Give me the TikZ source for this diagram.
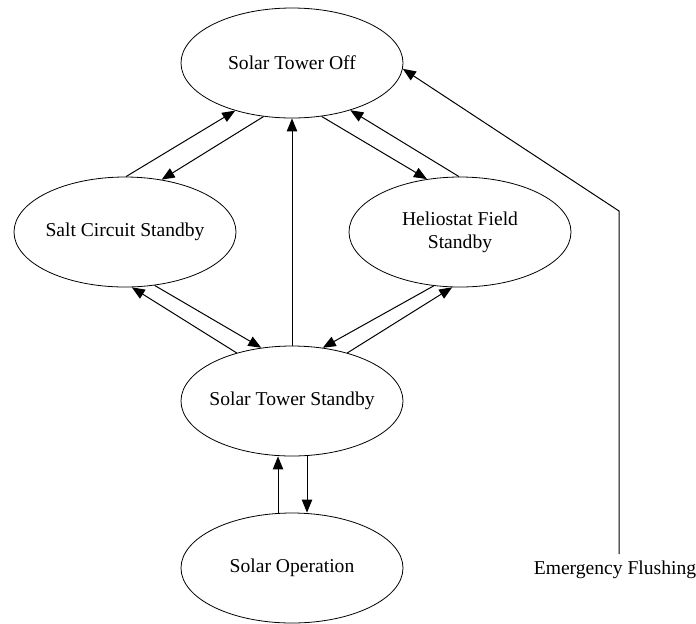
\documentclass[tikz,border=0pt]{standalone}
\usepackage{fontspec}
\setmainfont{Liberation Serif}
\usetikzlibrary{arrows.meta,shapes.geometric}

\begin{document}
\begin{tikzpicture}[x=0.5pt,y=-0.5pt]
    % states of the solar tower plant
    % - one off state, three standby states, operation
    % - emergency flushing goes back to off
    \tikzset{state/.style = {shape=ellipse,draw,line width=0.4pt,inner ysep=0pt,
        inner xsep=-5pt,minimum width=111pt,minimum height=55pt,align=center,
        font=\fontsize{9.8}{11.6}\selectfont}}
    \tikzset{pre/.style = {-{Triangle[length=6.5pt,width=5.2pt]},line width=0.5pt}}

    \useasboundingbox (0,0) rectangle (696,623);

    % states
    \node[state] (off)  at (292,63)  {Solar Tower Off};
    \node[state] (salt) at (125,232) {Salt Circuit Standby};
    \node[state] (helio) at (460,232) {Heliostat Field\\Standby};
    \node[state] (stb)  at (292,401) {Solar Tower Standby};
    \node[state] (op)   at (292,568) {Solar Operation};

    % emergency
    \node[font=\fontsize{9.8}{11.6}\selectfont] (ef) at (615,570) {Emergency Flushing};
    \coordinate (bend) at (619,211);

    % off <-> salt circuit
    \draw[pre] (salt.89) -- (off.220);
    \draw[pre] (off.242) -- (salt.55);

    % off <-> heliostat field
    \draw[pre] (off.299) -- (helio.122);
    \draw[pre] (helio.91) -- (off.321);

    % salt circuit <-> standby
    \draw[pre] (salt.299) -- (stb.120);
    \draw[pre] (stb.139) -- (salt.277);

    % heliostat field <-> standby
    \draw[pre] (helio.244) -- (stb.60);
    \draw[pre] (stb.41) -- (helio.262);

    % standby -> off
    \draw[pre] (stb.north) -- (off.south);

    % standby <-> operation
    \draw[pre] ([xshift=-7pt]op.north) -- ([xshift=-7pt]stb.south);
    \draw[pre] ([xshift=7.5pt]stb.south) -- ([xshift=7.5pt]op.north);

    % emergency flushing -> off
    \draw[pre] (ef.north -| bend) -- (bend) -- (off.357);
\end{tikzpicture}
\end{document}
